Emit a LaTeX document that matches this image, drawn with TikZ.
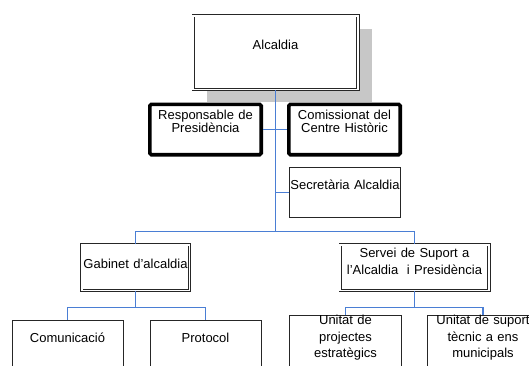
\documentclass[tikz,border=0pt]{standalone}
\usepackage{fontspec}
\setmainfont{Liberation Sans}
\usepackage{tikz}
\usetikzlibrary{shadows}

\definecolor{busblue}{RGB}{74,126,212}
\newcommand{\orgfont}[1]{\fontsize{13}{#1}\selectfont}

\begin{document}
\begin{tikzpicture}[x=1pt, y=-1pt,
    unit/.style={draw=black!85, fill=white, rectangle, inner sep=0pt, line width=0.8pt,
        align=center, text height=9.5pt, font=\orgfont{16.5}},
    dblunit/.style={unit, double=white, double distance=1.8pt, line width=0.7pt},
    thickunit/.style={unit, draw=black, line width=3.6pt, rounded corners=1.5pt, font=\orgfont{13.3}},
    bus/.style={draw=busblue, line width=1.4pt}]
    \useasboundingbox (0,0) rectangle (529,365);

    % Alcaldia (amb ombra)
    \node[dblunit, minimum width=164.8pt, minimum height=73.8pt, text width=160pt, text depth=15.5pt,
        drop shadow={shadow xshift=14pt, shadow yshift=-13pt, fill=black!22, opacity=1}]
        (alc) at (275.5,52.5) {Alcaldia};

    % Responsable i Comissionat
    \node[thickunit, minimum width=111.4pt, minimum height=50.4pt, text width=107pt, text depth=29.5pt]
        (resp) at (205.5,129.5) {Responsable de\\Presidència};
    \node[thickunit, minimum width=111.4pt, minimum height=50.4pt, text width=107pt, text depth=29.5pt]
        (comis) at (344.5,129.5) {Comissionat del\\Centre Històric};

    % Secretaria
    \node[unit, minimum width=111.2pt, minimum height=50.2pt, text width=111pt, text depth=15.5pt]
        (sec) at (345,192.5) {Secretària Alcaldia};

    % Segon nivell
    \node[dblunit, minimum width=107.8pt, minimum height=45.8pt, text width=107pt, text depth=8.5pt]
        (gab) at (135.5,267.5) {Gabinet d'alcaldia};
    \node[dblunit, minimum width=148.8pt, minimum height=45.8pt, text width=144pt, text depth=29.5pt]
        (serv) at (414.5,267.5) {Servei de Suport a\\l'Alcaldia~ i Presidència};

    % Tercer nivell
    \node[unit, minimum width=111.2pt, minimum height=50.2pt, text width=107pt, text depth=15.5pt]
        (com) at (67.5,345.5) {Comunicació};
    \node[unit, minimum width=111.2pt, minimum height=50.2pt, text width=107pt, text depth=15.5pt]
        (prot) at (205.5,345.5) {Protocol};
    \node[unit, minimum width=112.2pt, minimum height=50.2pt, text width=108pt, text depth=51.5pt]
        (proj) at (345.5,345.5) {Unitat de\\projectes\\estratègics};
    \node[unit, minimum width=112pt, minimum height=50.2pt, text width=108pt, text depth=51.5pt]
        (supo) at (483,345.5) {Unitat de suport\\tècnic a ens\\municipals};

    % Connexions
    \coordinate (hub) at (275.5,231.5);
    \coordinate (gabhub) at (135.5,307.5);
    \coordinate (servhub) at (414.5,307.5);
    \draw[bus] (alc.south) -- (hub);
    \draw[bus] (resp.east) -- (comis.west);
    \draw[bus] (sec.west) -- (sec.west -| alc.south);
    \draw[bus] (gab.north) |- (hub) -| (serv.north);
    \draw[bus] (gab.south) -- (gabhub);
    \draw[bus] (com.north) |- (gabhub) -| (prot.north);
    \draw[bus] (serv.south) -- (servhub);
    \draw[bus] (proj.north) |- (servhub) -| (supo.north);
\end{tikzpicture}
\end{document}
